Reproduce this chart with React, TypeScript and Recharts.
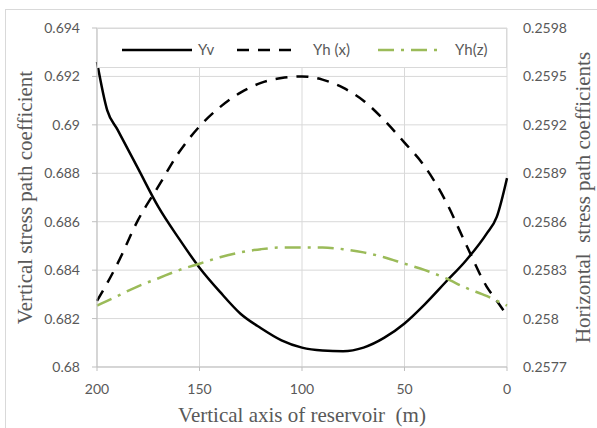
import React from 'react';
import { LineChart, Line, XAxis, YAxis, CartesianGrid, Legend } from 'recharts';

// depth along the reservoir (m)
const depths = [200, 195, 190, 180, 170, 160, 150, 140, 130, 120, 110, 100, 90, 80, 70, 60, 50, 40, 30, 20, 10, 5, 0];

// vertical stress path coefficient (left axis)
const yvValues = [
    0.6926, 0.6906, 0.6898, 0.6882, 0.6866, 0.6853, 0.6841, 0.6831, 0.6822, 0.6816, 0.6811, 0.6808,
    0.68068, 0.68065, 0.6808, 0.6812, 0.6818, 0.6826, 0.6835, 0.6844, 0.6855, 0.6862, 0.6878,
];

// horizontal stress path coefficients (right axis)
const yhxValues = [
    0.25811, 0.25822, 0.25834, 0.25861, 0.25882, 0.25903, 0.25919, 0.25931, 0.2594, 0.25946, 0.25949,
    0.2595, 0.25948, 0.25943, 0.25935, 0.25923, 0.25909, 0.25894, 0.25873, 0.25846, 0.2582, 0.25811, 0.25802,
];
const yhzValues = [
    0.25808, 0.25811, 0.25814, 0.2582, 0.25825, 0.2583, 0.25834, 0.25838, 0.25841, 0.25843, 0.25844,
    0.25844, 0.25844, 0.25843, 0.25841, 0.25838, 0.25834, 0.2583, 0.25825, 0.25819, 0.25814, 0.25811, 0.25808,
];

const xTicks = [0, 50, 100, 150, 200];
const leftTicks = [0.68, 0.682, 0.684, 0.686, 0.688, 0.69, 0.692, 0.694];
const rightTicks = [0.2577, 0.258, 0.2583, 0.2586, 0.2589, 0.2592, 0.2595, 0.2598];

const seriesNames = ['Yv', 'Yh (x)', 'Yh(z)'];

const data = depths.map((d, i) => ({
    depth: d,
    yv: yvValues[i],
    yhx: yhxValues[i],
    yhz: yhzValues[i],
}));

const GREEN = '#9bbb59';
const TEXT = '#595959';
const tickFont = { fill: TEXT, fontSize: 14, fontFamily: 'Lato, sans-serif' };
const titleFont = { fill: TEXT, fontSize: 21, fontFamily: '"Liberation Serif", serif' };

// nbsp keeps the double space that the original titles have
const xTitle = 'Vertical axis of reservoir\u00a0 (m)';
const leftTitle = 'Vertical stress path coefficient';
const rightTitle = 'Horizontal\u00a0 stress path coefficients';

const ChartLegend = () => (
    <svg width={410} height={40} style={{ display: 'block' }}>
        <rect x={0.5} y={0.5} width={409} height={39} fill="#fff" stroke="#d9d9d9" />
        <line x1={25} x2={95} y1={22} y2={22} stroke="#000" strokeWidth={2.5} />
        <text x={101} y={27} fill={TEXT} fontSize={15} fontFamily="Lato, sans-serif">{seriesNames[0]}</text>
        <line x1={140} x2={195} y1={22} y2={22} stroke="#000" strokeWidth={2.5} strokeDasharray="12 9" />
        <text x={216} y={27} fill={TEXT} fontSize={15} fontFamily="Lato, sans-serif">{seriesNames[1]}</text>
        <line x1={281} x2={341} y1={22} y2={22} stroke={GREEN} strokeWidth={2.5} strokeDasharray="16 7 3 7" />
        <text x={358} y={27} fill={TEXT} fontSize={15} fontFamily="Lato, sans-serif">{seriesNames[2]}</text>
    </svg>
);

export default function App() {
    return (
        <div style={{ position: 'absolute', left: 0, top: 0, width: 597, height: 428, overflow: 'hidden', background: '#fff' }}>
            <div style={{ position: 'absolute', left: 5, top: 9, width: 620, height: 440, border: '1px solid #d9d9d9' }} />
            <LineChart width={597} height={428} data={data} margin={{ top: 28, right: 0, left: 0, bottom: 0 }}>
                <CartesianGrid yAxisId="left" stroke="#d9d9d9" strokeWidth={1} />
                <XAxis
                    dataKey="depth"
                    type="number"
                    domain={[0, 200]}
                    ticks={xTicks}
                    reversed
                    height={61}
                    stroke="#bfbfbf"
                    tickSize={4}
                    tickMargin={13}
                    tick={tickFont}
                    label={{ value: xTitle, position: 'insideBottom', offset: 6, style: titleFont }}
                />
                <YAxis
                    yAxisId="left"
                    orientation="left"
                    width={97}
                    domain={[0.68, 0.694]}
                    ticks={leftTicks}
                    stroke="#bfbfbf"
                    tickSize={5}
                    tickMargin={12}
                    tick={tickFont}
                    label={{ value: leftTitle, angle: -90, position: 'insideLeft', offset: 25, style: { ...titleFont, textAnchor: 'middle' } }}
                />
                <YAxis
                    yAxisId="right"
                    orientation="right"
                    width={90}
                    domain={[0.2577, 0.2598]}
                    ticks={rightTicks}
                    axisLine={false}
                    tickLine={false}
                    tickSize={0}
                    tickMargin={16}
                    tick={{ ...tickFont, textAnchor: 'start' }}
                    label={{ value: rightTitle, angle: -90, position: 'insideRight', offset: 14, style: { ...titleFont, textAnchor: 'middle' } }}
                />
                <Legend
                    layout="horizontal"
                    verticalAlign="middle"
                    align="center"
                    wrapperStyle={{ top: 28, left: 97, width: 410, height: 40 }}
                    content={() => <ChartLegend />}
                />
                <Line yAxisId="left" dataKey="yv" name={seriesNames[0]} type="monotone" stroke="#000" strokeWidth={2.5} dot={false} isAnimationActive={false} />
                <Line yAxisId="right" dataKey="yhx" name={seriesNames[1]} type="monotone" stroke="#000" strokeWidth={2.5} strokeDasharray="12 9" dot={false} isAnimationActive={false} />
                <Line yAxisId="right" dataKey="yhz" name={seriesNames[2]} type="monotone" stroke={GREEN} strokeWidth={2.5} strokeDasharray="16 7 3 7" dot={false} isAnimationActive={false} />
            </LineChart>
        </div>
    );
}
